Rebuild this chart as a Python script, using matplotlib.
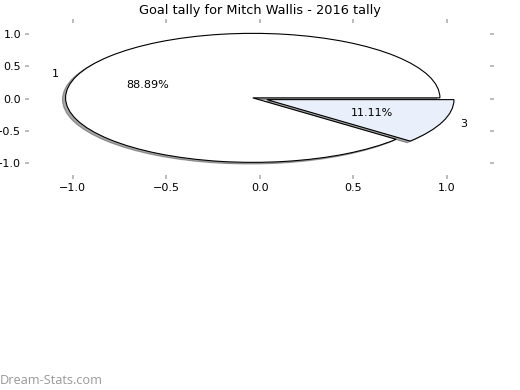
import matplotlib.pyplot as plt

# datos del grafico
etiquetas = ['1', '3']
goles = [8, 1]
colores = ['#ffffff', '#eaf0fb']
separacion = [0.04, 0.04]

fig = plt.figure(figsize=(5.2, 3.9), dpi=100)
ax = fig.add_axes([0.0558, 0.55, 0.8865, 0.392])

ax.pie(goles, labels=etiquetas, colors=colores, explode=separacion,
       autopct='%1.2f%%', shadow={'ox': -0.012, 'oy': -0.018}, startangle=0,
       frame=True, wedgeprops={'edgecolor': 'black', 'linewidth': 0.8},
       textprops={'fontsize': 8})

ax.set_aspect('auto')
ax.set_xlim(-1.233, 1.23)
ax.set_ylim(-1.19, 1.18)
ax.set_xticks([-1.0, -0.5, 0.0, 0.5, 1.0])
ax.set_yticks([-1.0, -0.5, 0.0, 0.5, 1.0])
for s in ax.spines.values():
    s.set_visible(False)
ax.tick_params(axis='both', which='both', top=True, right=True,
               color='#bbbbbb', labelsize=8, length=2.6, width=1.4, pad=3)
ax.set_title('Goal tally for Mitch Wallis - 2016 tally', fontsize=9.3, pad=6)

fig.text(0.0, 0.016, 'Dream-Stats.com', fontsize=9.2, color='#999999',
         family='Open Sans')

plt.savefig('out.png', dpi=100)
